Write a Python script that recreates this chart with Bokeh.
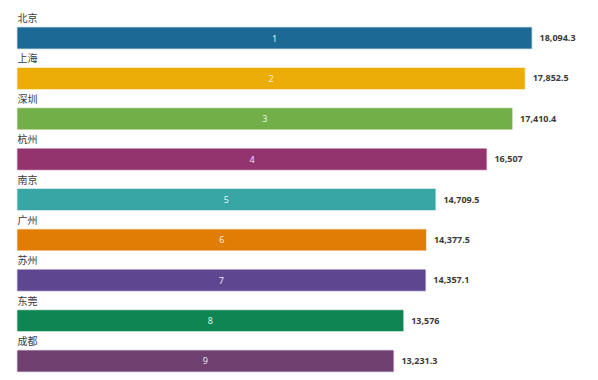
from bokeh.plotting import figure
from bokeh.models import ColumnDataSource, Range1d
from bokeh.core.properties import value
from bokeh.embed import file_html
from bokeh.resources import INLINE

cities = ["北京", "上海", "深圳", "杭州", "南京", "广州", "苏州", "东莞", "成都"]
values = [18094.3, 17852.5, 17410.4, 16507, 14709.5, 14377.5, 14357.1, 13576, 13231.3]
value_labels = ["18,094.3", "17,852.5", "17,410.4", "16,507", "14,709.5", "14,377.5", "14,357.1", "13,576", "13,231.3"]
colors = ["#1D6996", "#EDAD08", "#73AF48", "#94346E", "#38A6A5", "#E17C05", "#5F4690", "#0F8554", "#6F4070"]

ranks = list(range(1, len(cities) + 1))
bar_h = 0.52
src = ColumnDataSource(dict(
    y=ranks,
    v=values,
    mid=[v / 2 for v in values],
    top=[r - bar_h / 2 - 0.06 for r in ranks],
    city=cities,
    vlab=value_labels,
    rank=[str(r) for r in ranks],
    color=colors,
))

W, H = 598, 380
p = figure(width=W, height=H, output_backend="svg", toolbar_location=None,
           x_range=Range1d(-598, 20451), y_range=Range1d(9.483, 0.071),
           min_border=0, outline_line_color=None)
p.axis.visible = False
p.grid.visible = False

p.hbar(y="y", right="v", left=0, height=bar_h, source=src,
       fill_color="color", line_color="color", line_alpha=0.35, line_width=1.5)

p.text(x=0, y="top", text="city", source=src, text_baseline="bottom",
       text_font=value("Noto Sans CJK SC"), text_font_size="10px",
       text_color="#3a3a3a")

p.text(x="v", y="y", text="vlab", source=src, x_offset=8, text_baseline="middle",
       text_font=value("Noto Sans"), text_font_size="9px", text_font_style="bold",
       text_color="#3a3a3a")

p.text(x="mid", y="y", text="rank", source=src, text_align="center", text_baseline="middle",
       text_font=value("Noto Sans"), text_font_size="9px", text_color="#ffffff", text_alpha=0.9)

open("out.html", "w").write(file_html(p, INLINE))
